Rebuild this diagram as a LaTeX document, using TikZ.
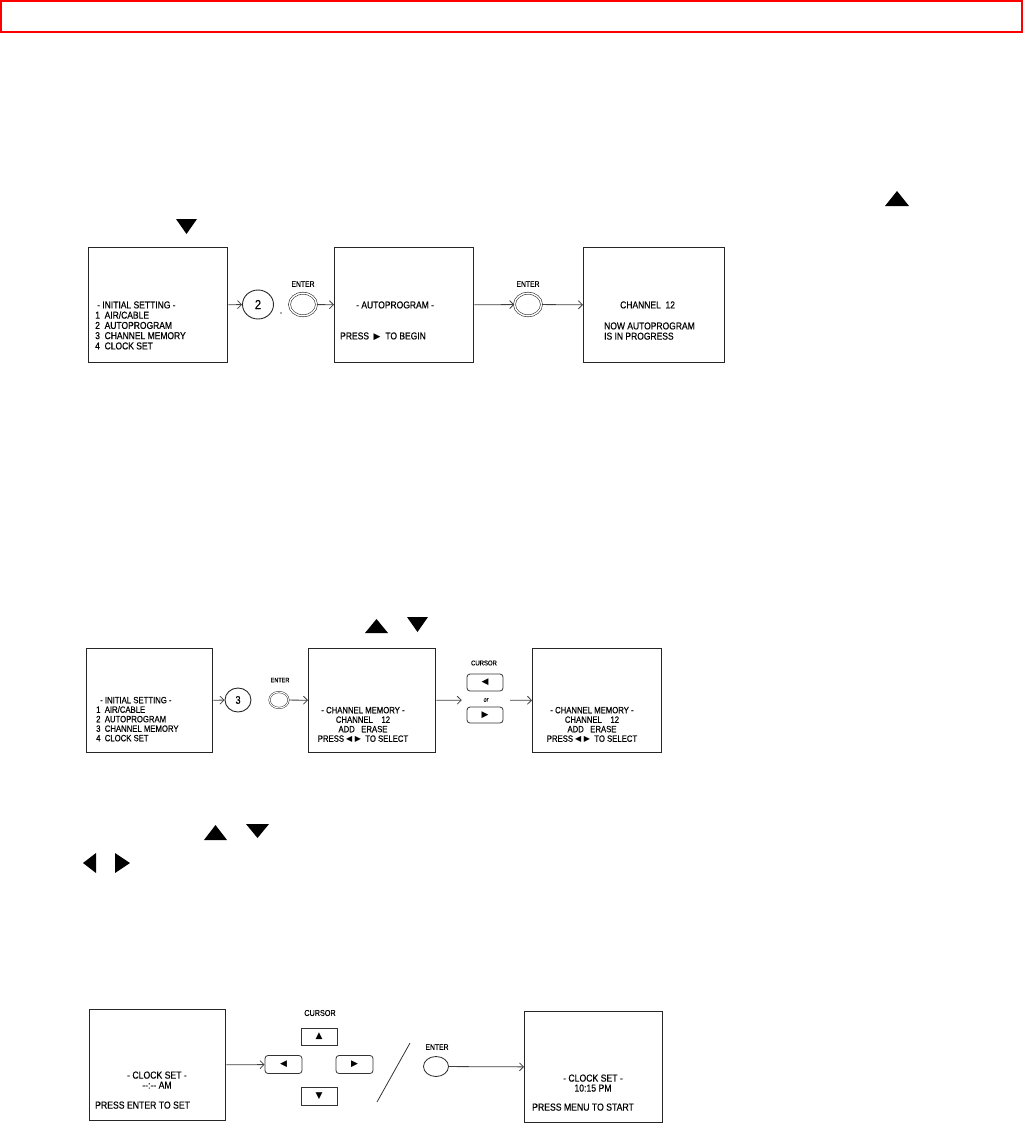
\documentclass[tikz,border=0pt]{standalone}
\usepackage{fontspec}
\setmainfont{Liberation Sans}
\newfontfamily\scrfont[FakeStretch=0.85, FakeBold=0.4]{Liberation Sans}
\newfontfamily\symfont{DejaVu Sans}
\usetikzlibrary{positioning,arrows.meta,shapes.geometric}
\tikzset{
  flowarrow/.style={-{Straight Barb[length=4pt,width=8pt]}, line width=0.8pt, black!75},
  screenbox/.style={draw=black!85, line width=1.3pt, anchor=north west, inner sep=0pt},
  scrtext/.style={align=left, inner sep=0pt, anchor=north west},
  keyround/.style={draw=black!85, ellipse, line width=0.9pt, inner sep=0pt},
  enterkey/.style={draw=black!80, ellipse, double, double distance=1.4pt, line width=0.6pt, inner sep=0pt, minimum width=27pt, minimum height=22.5pt},
  keylabel/.style={inner sep=0pt},
  cursorbtn/.style={draw=black!80, line width=0.8pt, minimum width=36pt, minimum height=17pt, inner sep=0pt, font=\symfont\fontsize{9}{9}\selectfont},
  rowone/.style={font=\scrfont\fontsize{10}{10.25}\selectfont},
  rowtwo/.style={font=\scrfont\fontsize{9.1}{9.5}\selectfont},
  rowthree/.style={font=\scrfont\fontsize{10.2}{10}\selectfont}
}

\begin{document}
\begin{tikzpicture}[x=1pt, y=-1pt]
  \useasboundingbox (0,0) rectangle (1024,1128);
  \draw[red, line width=2pt] (1,1) rectangle (1022,32);

  \fill (176,219) -- (197,219) -- (186.5,234) -- cycle;
  \fill (885,206) -- (909,206) -- (897,191) -- cycle;

  \node[screenbox, minimum width=139pt, minimum height=115pt] (initA) at (88,247) {};
  \node[scrtext, rowone] (initAtxt) at (95,301.2) {\hspace*{2pt}- INITIAL SETTING -\\1\ \ AIR/CABLE\\2\ \ AUTOPROGRAM\\3\ \ CHANNEL MEMORY\\4\ \ CLOCK SET};
  \node[keyround, font=\scrfont\fontsize{13}{13}\selectfont, minimum width=31pt, minimum height=29pt] (keyTwo) at (258,304.5) {2};
  \node[keylabel, rowone] (dotA) at (281,313) {.};
  \node[enterkey] (enterA) at (303,304.5) {};
  \node[keylabel, font=\scrfont\fontsize{8}{8}\selectfont] (enterAlbl) at (303,284) {ENTER};
  \node[screenbox, minimum width=139pt, minimum height=115pt] (autoA) at (334,247) {};
  \node[scrtext, rowone] (autoAtxt) at (356,301.2) {- AUTOPROGRAM -};
  \node[scrtext, rowone] (autoAkey) at (340,332.2) {PRESS \ {\symfont\fontsize{9}{9}\selectfont ▶}\ \ TO BEGIN};
  \node[enterkey] (enterB) at (528,304.5) {};
  \node[keylabel, font=\scrfont\fontsize{8}{8}\selectfont] (enterBlbl) at (528,284) {ENTER};
  \node[screenbox, minimum width=141pt, minimum height=115pt] (progA) at (583,247) {};
  \node[scrtext, rowone] (progAch) at (620,301.2) {CHANNEL\ \ 12};
  \node[scrtext, rowone] (progAtxt) at (604,322.2) {NOW AUTOPROGRAM\\IS IN PROGRESS};
  \draw[flowarrow] (initA) -- (keyTwo);
  \draw[flowarrow] (enterA) -- (autoA);
  \draw[flowarrow] (autoA) -- (enterB);
  \draw[flowarrow] (enterB) -- (progA);

  \fill (365,633) -- (388,633) -- (376.5,619) -- cycle;
  \fill (407,617) -- (428,617) -- (417.5,632) -- cycle;

  \node[screenbox, minimum width=126pt, minimum height=104pt] (initB) at (86,648) {};
  \node[scrtext, rowtwo] (initBtxt) at (96,696.7) {\hspace*{4pt}- INITIAL SETTING -\\1\ \ AIR/CABLE\\2\ \ AUTOPROGRAM\\3\ \ CHANNEL MEMORY\\4\ \ CLOCK SET};
  \node[keyround, font=\scrfont\fontsize{11}{11}\selectfont, minimum width=26pt, minimum height=24pt] (keyThree) at (238,700) {3};
  \node[enterkey, minimum width=19pt, minimum height=16pt, line width=0.5pt, double distance=1pt] (enterC) at (279,700) {};
  \node[keylabel, font=\scrfont\fontsize{6.5}{6.5}\selectfont] (enterClbl) at (280,680) {ENTER};
  \node[screenbox, minimum width=127pt, minimum height=104pt] (chanA) at (308,648) {};
  \node[scrtext, rowtwo, align=center, anchor=north] (chanAtxt) at (363,706.7) {- CHANNEL MEMORY -\\CHANNEL\ \ \ \ 12\\ADD\ \ \ ERASE\\PRESS {\symfont\fontsize{8}{8}\selectfont ◀ ▶}\ \ TO SELECT};
  \node[keylabel, font=\scrfont\fontsize{7}{7}\selectfont] (cursorA) at (484,663) {CURSOR};
  \node[cursorbtn, rounded corners=3pt] (leftA) at (485,682.5) {◀};
  \node[keylabel, font=\scrfont\fontsize{6.5}{6.5}\selectfont, minimum width=48pt] (orA) at (486,700) {or};
  \node[cursorbtn, rounded corners=3pt, minimum height=16pt] (rightA) at (485,715) {▶};
  \node[screenbox, minimum width=129pt, minimum height=104pt] (chanB) at (532,648) {};
  \node[scrtext, rowtwo, align=center, anchor=north] (chanBtxt) at (592,706.7) {- CHANNEL MEMORY -\\CHANNEL\ \ \ \ 12\\ADD\ \ \ ERASE\\PRESS {\symfont\fontsize{8}{8}\selectfont ◀ ▶}\ \ TO SELECT};
  \draw[flowarrow] (initB) -- (keyThree);
  \draw[flowarrow] (enterC) -- (chanA);
  \draw[flowarrow] (chanA) -- (orA);
  \draw[flowarrow] (orA) -- (chanB);

  \fill (204,840) -- (227,840) -- (215.5,825) -- cycle;
  \fill (246,824) -- (269,824) -- (257.5,838) -- cycle;
  \fill (96,853) -- (96,873) -- (83,863) -- cycle;
  \fill (115,853) -- (115,873) -- (130,863) -- cycle;

  \node[screenbox, minimum width=136pt, minimum height=111pt] (clockA) at (89,1009) {};
  \node[scrtext, rowthree, align=center, anchor=north] (clockAtxt) at (157,1071.3) {- CLOCK SET -\\-{}-:-{}- AM};
  \node[scrtext, rowthree] (clockAkey) at (95,1101.3) {PRESS ENTER TO SET};
  \node[keylabel, font=\scrfont\fontsize{8.5}{8.5}\selectfont] (cursorB) at (320,1013) {CURSOR};
  \node[cursorbtn] (upB) at (319,1036.5) {▲};
  \node[cursorbtn, rounded corners=3pt, minimum width=37pt, minimum height=18pt] (leftB) at (283.5,1064.5) {◀};
  \node[cursorbtn, rounded corners=3pt, minimum width=37pt, minimum height=18pt] (rightB) at (354.5,1064.5) {▶};
  \node[cursorbtn, minimum height=18pt] (downB) at (319,1096) {▼};
  \coordinate (slashTop) at (410,1043);
  \coordinate (slashBot) at (377,1102);
  \draw[line width=0.8pt, black!80] (slashTop) -- (slashBot);
  \node[keyround, minimum width=25pt, minimum height=20pt, line width=0.8pt] (enterD) at (436,1066.5) {};
  \node[keylabel, font=\scrfont\fontsize{8}{8}\selectfont] (enterDlbl) at (437,1047) {ENTER};
  \node[screenbox, minimum width=138pt, minimum height=111pt] (clockB) at (524,1011) {};
  \node[scrtext, rowthree, align=center, anchor=north] (clockBtxt) at (593,1074.3) {- CLOCK SET -\\10:15 PM};
  \node[scrtext, rowthree] (clockBkey) at (532,1103.3) {PRESS MENU TO START};
  \draw[flowarrow] (clockA) -- (leftB);
  \draw[flowarrow] (enterD) -- (clockB);
\end{tikzpicture}
\end{document}
